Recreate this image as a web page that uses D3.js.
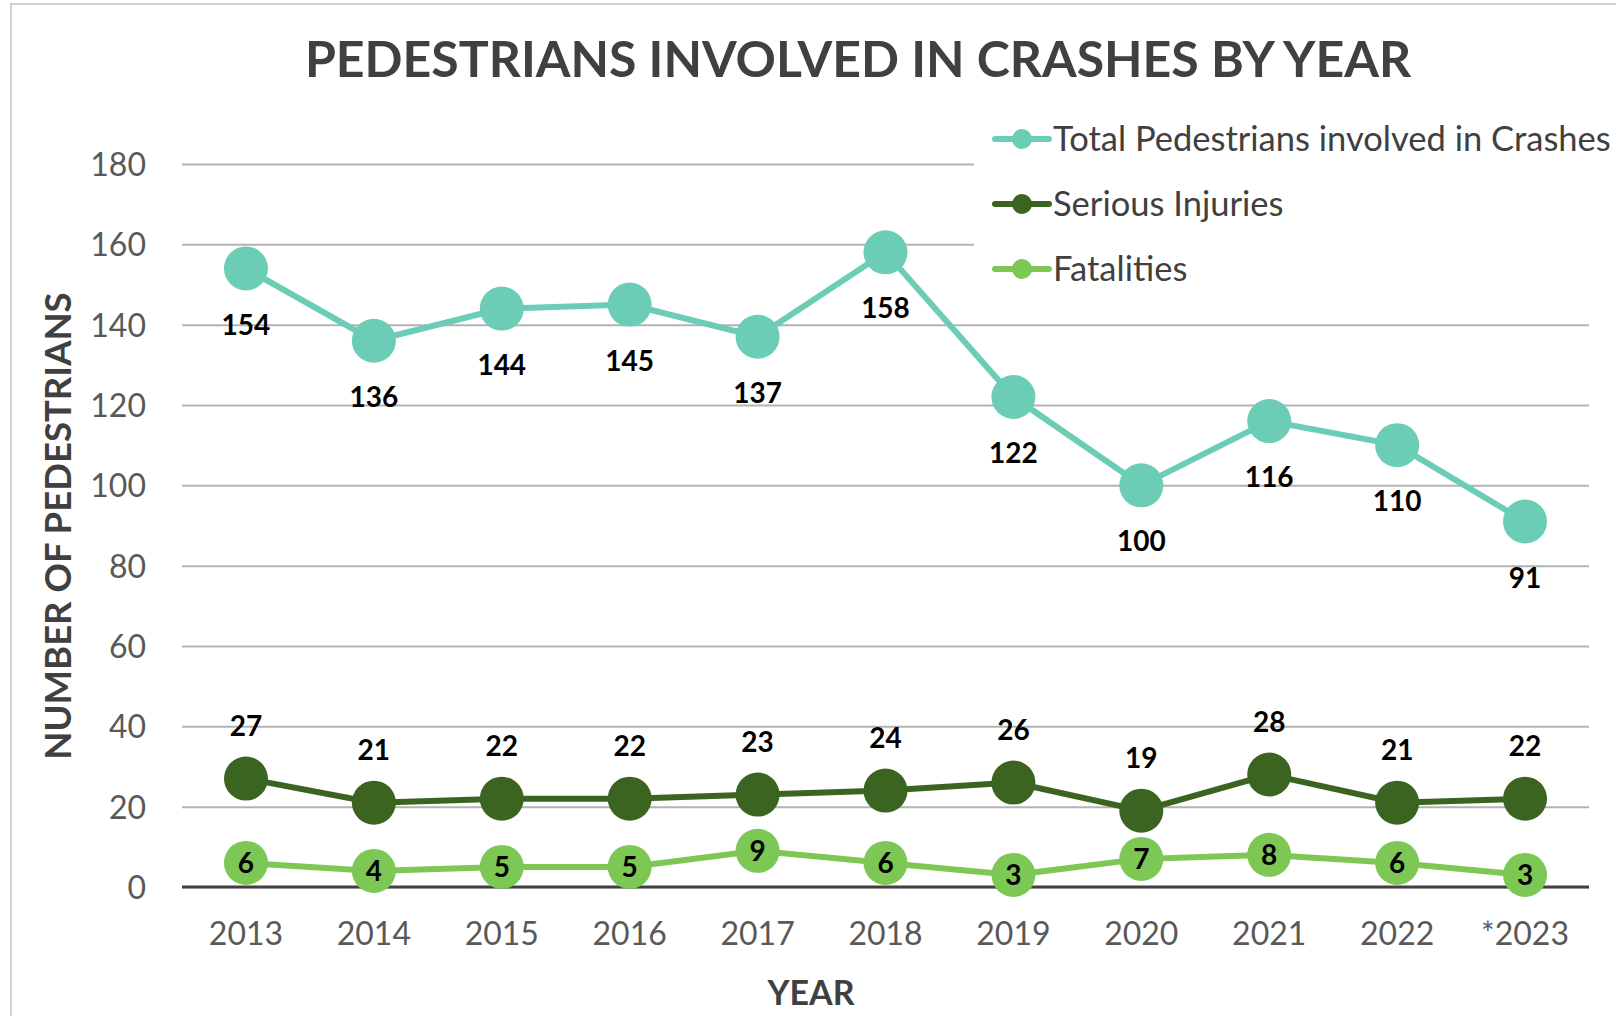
<!DOCTYPE html>
<html>
  <head>
    <meta charset="utf-8" />
    <style>
      body{
        margin: 0;
        background: white;
        font-family: 'Lato', sans-serif;
      }
      .grid line{
        stroke: #b3b3b3;
        stroke-width: 2px;
      }
      .tick text{
        fill: #595959;
        font-family: 'Lato', sans-serif;
        font-size: 32px;
      }
      .label{
        font-weight: bold;
        font-size: 28px;
        fill: black;
        text-anchor: middle;
      }
    </style>
  </head>
  <body>
    <script src="https://d3js.org/d3.v7.min.js"></script>
    <svg id="chart"></svg>
    <script>
      var years = ["2013", "2014", "2015", "2016", "2017", "2018", "2019", "2020", "2021", "2022", "*2023"];
      var totalPedestrians = [154, 136, 144, 145, 137, 158, 122, 100, 116, 110, 91];
      var seriousInjuries = [27, 21, 22, 22, 23, 24, 26, 19, 28, 21, 22];
      var fatalities = [6, 4, 5, 5, 9, 6, 3, 7, 8, 6, 3];
      var yTicks = [0, 20, 40, 60, 80, 100, 120, 140, 160, 180];
      var seriesNames = ["Total Pedestrians involved in Crashes", "Serious Injuries", "Fatalities"];

      var width = 1616;
      var height = 1016;

      var svg = d3.select("#chart")
        .attr("width", width)
        .attr("height", height);

      // outer chart border
      svg.append("rect")
        .attr("x", 11)
        .attr("y", 4)
        .attr("width", width + 20)
        .attr("height", height + 20)
        .attr("fill", "white")
        .attr("stroke", "#d0d0d0")
        .attr("stroke-width", 2);

      var x = d3.scaleBand().domain(years).range([182, 1589]);
      var y = d3.scaleLinear().domain([0, 180]).range([887, 164]);

      var colors = ["#6bcdb6", "#3c6421", "#7dc855"];
      var series = [
        { name: seriesNames[0], values: totalPedestrians, color: colors[0], pos: "below" },
        { name: seriesNames[1], values: seriousInjuries, color: colors[1], pos: "above" },
        { name: seriesNames[2], values: fatalities, color: colors[2], pos: "center" }
      ];

      // gridlines + y tick labels
      var yAxis = svg.append("g")
        .attr("class", "grid")
        .attr("transform", "translate(182,0)")
        .call(d3.axisLeft(y).tickValues(yTicks).tickSize(-(1589 - 182)).tickPadding(36));
      yAxis.select(".domain").remove();
      yAxis.selectAll(".tick text").attr("dy", "0.36em");

      // zero baseline
      svg.append("line")
        .attr("x1", 182)
        .attr("x2", 1589)
        .attr("y1", y(0))
        .attr("y2", y(0))
        .attr("stroke", "#404040")
        .attr("stroke-width", 3);

      // x axis labels
      var xAxis = svg.append("g")
        .attr("transform", "translate(0," + y(0) + ")")
        .call(d3.axisBottom(x).tickSize(0).tickPadding(35));
      xAxis.select(".domain").remove();

      // legend box covers top gridlines
      var legend = svg.append("g");
      legend.append("rect")
        .attr("x", 974)
        .attr("y", 112)
        .attr("width", 642)
        .attr("height", 180)
        .attr("fill", "white");

      var line = d3.line()
        .x(function (d, i) { return x(years[i]) + x.bandwidth() / 2; })
        .y(function (d) { return y(d); });

      series.forEach(function (s) {
        svg.append("path")
          .datum(s.values)
          .attr("d", line)
          .attr("fill", "none")
          .attr("stroke", s.color)
          .attr("stroke-width", 6);

        svg.selectAll(null)
          .data(s.values)
          .enter()
          .append("circle")
          .attr("cx", function (d, i) { return x(years[i]) + x.bandwidth() / 2; })
          .attr("cy", function (d) { return y(d); })
          .attr("r", 22)
          .attr("fill", s.color);

        svg.selectAll(null)
          .data(s.values)
          .enter()
          .append("text")
          .attr("class", "label")
          .attr("x", function (d, i) { return x(years[i]) + x.bandwidth() / 2; })
          .attr("y", function (d) {
            if (s.pos === "below") return y(d) + 56;
            if (s.pos === "above") return y(d) - 53;
            return y(d);
          })
          .attr("dy", "0.36em")
          .text(function (d) { return d; });
      });

      // legend entries
      series.forEach(function (s, i) {
        var ly = 139 + i * 65;
        legend.append("line")
          .attr("x1", 995)
          .attr("x2", 1049)
          .attr("y1", ly)
          .attr("y2", ly)
          .attr("stroke", s.color)
          .attr("stroke-width", 6)
          .attr("stroke-linecap", "round");
        legend.append("circle")
          .attr("cx", 1022)
          .attr("cy", ly)
          .attr("r", 10)
          .attr("fill", s.color);
        legend.append("text")
          .attr("x", 1053)
          .attr("y", ly)
          .attr("dy", "0.36em")
          .attr("fill", "#404040")
          .style("font-size", "34.5px")
          .text(s.name);
      });

      // titles
      svg.append("text")
        .attr("x", 858)
        .attr("y", 77)
        .attr("text-anchor", "middle")
        .attr("fill", "#404040")
        .style("font-weight", "bold")
        .style("font-size", "50px")
        .text("PEDESTRIANS INVOLVED IN CRASHES BY YEAR");

      svg.append("text")
        .attr("transform", "translate(71,526) rotate(-90)")
        .attr("text-anchor", "middle")
        .attr("fill", "#404040")
        .style("font-weight", "bold")
        .style("font-size", "36.5px")
        .text("NUMBER OF PEDESTRIANS");

      svg.append("text")
        .attr("x", 811)
        .attr("y", 1005)
        .attr("text-anchor", "middle")
        .attr("fill", "#404040")
        .style("font-weight", "bold")
        .style("font-size", "34px")
        .text("YEAR");
    </script>
  </body>
</html>
